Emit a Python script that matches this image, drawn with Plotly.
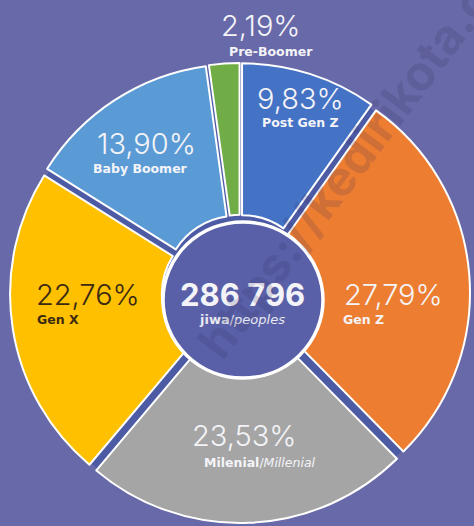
import plotly.graph_objects as go

# ---------------- data ----------------
generations = ["Post Gen Z", "Gen Z", "Milenial", "Gen X", "Baby Boomer", "Pre-Boomer"]
shares = [9.83, 27.79, 23.53, 22.76, 13.90, 2.19]
slice_colors = ["#4472C4", "#ED7D31", "#A5A5A5", "#FFC000", "#5B9BD5", "#70AD47"]
total_people = "286 796"
label_names = ["Post Gen Z", "Gen Z", "Milenial/<i>Millenial</i>", "Gen X", "Baby Boomer", "Pre-Boomer"]

W, H = 474, 526
BG = "#6869a8"
GAP = "#4d5aa4"
HOLE = "#5a60a8"

# pie geometry (pixels)
cx, cy, half = 240, 293, 230
pull = 0.03

def px(x):
    return x / W

def py(y):
    return 1 - y / H

fig = go.Figure()
fig.add_trace(go.Pie(
    labels=generations,
    values=shares,
    marker=dict(colors=slice_colors, line=dict(color="white", width=2)),
    sort=False,
    direction="clockwise",
    rotation=0,
    hole=0.32,
    pull=[pull] * len(shares),
    textinfo="none",
    hovertemplate="%{label}: %{value:.2f}%<extra></extra>",
    showlegend=False,
    domain=dict(x=[px(cx - half), px(cx + half)], y=[py(cy + half), py(cy - half)]),
))

R = half / (1 + pull)
shapes = [
    # dark disk behind slices (visible in gaps)
    dict(type="circle", xref="paper", yref="paper", layer="below",
         x0=px(cx - R - 3), x1=px(cx + R + 3), y0=py(cy + R + 3), y1=py(cy - R - 3),
         fillcolor=GAP, line=dict(width=0)),
    # centre circle
    dict(type="circle", xref="paper", yref="paper", layer="above",
         x0=px(243 - 80), x1=px(243 + 80), y0=py(300 + 78), y1=py(300 - 78),
         fillcolor=HOLE, line=dict(color="white", width=3.5)),
]

# label positions (pixels): (pct_x, pct_y, name_x, name_y, name_anchor)
label_pos = {
    "Post Gen Z": (300, 98, 300, 123, "center"),
    "Gen Z": (393, 294, 341, 319, "left"),
    "Milenial": (244, 435, 260, 462, "center"),
    "Gen X": (88, 294, 35, 319, "left"),
    "Baby Boomer": (146, 143, 140, 168, "center"),
    "Pre-Boomer": (261, 26, 271, 52, "center"),
}
dark_text = {"Gen X"}

annotations = []
FONT = "Inter, Open Sans, sans-serif"
NAME_FONT = "DejaVu Sans, Verdana, sans-serif"
for g, v, name in zip(generations, shares, label_names):
    pxp, pyp, nx, ny, anc = label_pos[g]
    col = "#3b2a12" if g in dark_text else "#f4f4f8"
    pct = f"{v:.2f}".replace(".", ",") + "%"
    annotations.append(dict(x=px(pxp), y=py(pyp), xref="paper", yref="paper",
                            text=pct, showarrow=False, xanchor="center", yanchor="middle",
                            font=dict(family=FONT, size=29, color=col, weight=300)))
    if "/" in name:
        head, tail = name.split("/", 1)
        txt = "<b>" + head + "</b>/" + tail
    else:
        txt = "<b>" + name + "</b>"
    annotations.append(dict(x=px(nx), y=py(ny), xref="paper", yref="paper",
                            text=txt, showarrow=False, xanchor=anc, yanchor="middle",
                            font=dict(family=NAME_FONT, size=12.5, color=col)))

# centre total
annotations.append(dict(x=px(242), y=py(294), xref="paper", yref="paper",
                        text=f"<b>{total_people}</b>", showarrow=False,
                        xanchor="center", yanchor="middle",
                        font=dict(family=FONT, size=31, color="#f4f4f8")))
annotations.append(dict(x=px(242), y=py(319), xref="paper", yref="paper",
                        text="<b>jiwa</b>/<i>peoples</i>", showarrow=False,
                        xanchor="center", yanchor="middle",
                        font=dict(family=NAME_FONT, size=13, color="#e8e8f0")))

# watermark
annotations.append(dict(x=px(372), y=py(135), xref="paper", yref="paper",
                        text="<b>https://kedirikota.go.id</b>", showarrow=False,
                        xanchor="center", yanchor="middle", textangle=-53,
                        font=dict(family=FONT, size=48, color="rgba(50,40,90,0.17)")))

fig.update_layout(
    width=W, height=H,
    margin=dict(l=0, r=0, t=0, b=0),
    paper_bgcolor=BG,
    plot_bgcolor=BG,
    shapes=shapes,
    annotations=annotations,
    showlegend=False,
)

fig.write_html("out.html")
